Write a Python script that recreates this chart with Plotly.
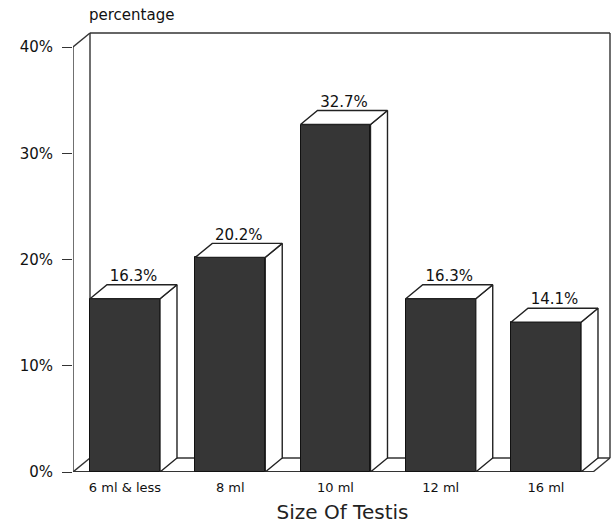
import plotly.graph_objects as go

categories = ["6 ml & less", "8 ml", "10 ml", "12 ml", "16 ml"]
values = [16.3, 20.2, 32.7, 16.3, 14.1]
value_labels = ["16.3%", "20.2%", "32.7%", "16.3%", "14.1%"]
y_ticks = [0, 10, 20, 30, 40]
y_tick_labels = ["0%", "10%", "20%", "30%", "40%"]

FONT = "DejaVu Sans"
W, H = 615, 529
L, R, T, B = 73, 3, 30, 57
px_per_cat = 105.25
px_per_pct = 10.625
x0r = -0.494
x1r = x0r + (W - L - R) / px_per_cat
y1r = (H - T - B) / px_per_pct
dx = 17 / px_per_cat
dy = 14 / px_per_pct
bw = 0.665
ytop = 40
xback = x0r + 537 / px_per_cat  # right back wall

fig = go.Figure()
xs = list(range(len(categories)))

fig.add_trace(go.Bar(x=xs, y=values, width=bw,
                     marker=dict(color="#363636", line=dict(color="#111", width=1)),
                     showlegend=False, hoverinfo="skip"))

for i, v in zip(xs, values):
    a, b = i - bw / 2, i + bw / 2
    # side face
    fig.add_trace(go.Scatter(x=[b, b + dx, b + dx, b, b], y=[0, dy, v + dy, v, 0],
                             mode="lines", fill="toself", fillcolor="white",
                             line=dict(color="#222", width=1.4), showlegend=False,
                             hoverinfo="skip", cliponaxis=False))
    # top face
    fig.add_trace(go.Scatter(x=[a, a + dx, b + dx, b, a], y=[v, v + dy, v + dy, v, v],
                             mode="lines", fill="toself", fillcolor="white",
                             line=dict(color="#222", width=1.4), showlegend=False,
                             hoverinfo="skip", cliponaxis=False))

fig.add_trace(go.Scatter(x=[i + dx / 2 for i in xs], y=[v + dy for v in values],
                         mode="text", text=value_labels, textposition="top center",
                         textfont=dict(family=FONT, size=15, color="#111"),
                         showlegend=False, hoverinfo="skip", cliponaxis=False))

line = dict(color="#333", width=1.4)
shapes = [
    # back wall
    dict(type="line", xref="x", yref="y", x0=x0r + dx, y0=dy, x1=x0r + dx, y1=ytop + dy, line=line, layer="below"),
    dict(type="line", xref="x", yref="y", x0=x0r + dx, y0=ytop + dy, x1=xback, y1=ytop + dy, line=line, layer="below"),
    dict(type="line", xref="x", yref="y", x0=xback, y0=dy, x1=xback, y1=ytop + dy, line=line, layer="below"),
    # floor
    dict(type="line", xref="x", yref="y", x0=x0r, y0=0, x1=xback - dx, y1=0, line=dict(color="#333", width=2), layer="below"),
    dict(type="line", xref="x", yref="y", x0=x0r + dx, y0=dy, x1=xback, y1=dy, line=line, layer="below"),
    dict(type="line", xref="x", yref="y", x0=x0r, y0=0, x1=x0r + dx, y1=dy, line=line, layer="below"),
    dict(type="line", xref="x", yref="y", x0=xback - dx, y0=0, x1=xback, y1=dy, line=line, layer="below"),
    # front axis and top-left corner
    dict(type="line", xref="x", yref="y", x0=x0r, y0=0, x1=x0r, y1=ytop, line=line),
    dict(type="line", xref="x", yref="y", x0=x0r, y0=ytop, x1=x0r + dx, y1=ytop + dy, line=line),
]

fig.update_layout(
    width=W, height=H,
    margin=dict(l=L, r=R, t=T, b=B),
    paper_bgcolor="white", plot_bgcolor="white",
    bargap=0,
    shapes=shapes,
    xaxis=dict(range=[x0r, x1r], tickvals=xs, ticktext=categories, showgrid=False,
               zeroline=False, showline=False, ticks="", ticklabelstandoff=6,
               tickfont=dict(family=FONT, size=13, color="#111"),
               title=dict(text="Size Of Testis", font=dict(family=FONT, size=20, color="#222"),
                          standoff=10)),
    yaxis=dict(range=[0, y1r], tickvals=y_ticks, ticktext=y_tick_labels, showgrid=False,
               zeroline=False, showline=False, ticks="outside", ticklen=10,
               tickcolor="#333", tickwidth=1.2, ticklabelstandoff=6,
               tickfont=dict(family=FONT, size=15, color="#111")),
    annotations=[dict(text="percentage", xref="paper", yref="paper", x=(87 - L) / (W - L - R),
                      y=1, xanchor="left", yanchor="bottom", yshift=4, showarrow=False,
                      font=dict(family=FONT, size=15, color="#111"))],
)

fig.write_html("out.html")
